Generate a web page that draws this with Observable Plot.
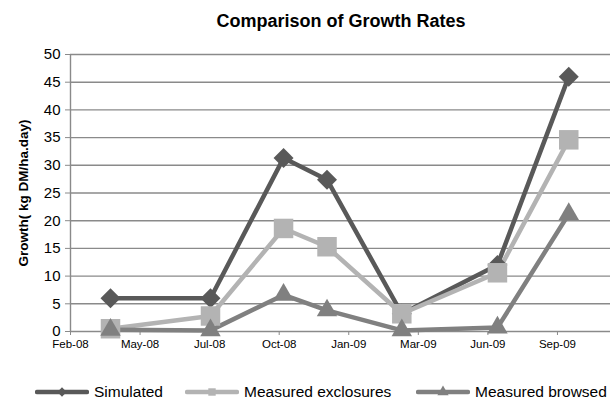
<!DOCTYPE html>
<html>
<head>
<meta charset="utf-8">
<script src="https://cdn.jsdelivr.net/npm/d3@7"></script>
<script src="https://cdn.jsdelivr.net/npm/@observablehq/plot@0.6"></script>
<style>
  body { margin: 0; background: #fff; font-family: Arial, "Liberation Sans", sans-serif; }
  #wrap { position: relative; width: 613px; height: 401px; overflow: hidden; }
  #title { position: absolute; left: 0; top: 12px; width: 682px; text-align: center; font-weight: bold; font-size: 18px; line-height: 18px; }
  #chart { position: absolute; left: 0; top: 40px; }
  .leg { position: absolute; top: 381px; height: 22px; font-size: 15.5px; display: flex; align-items: center; white-space: nowrap; }
  .leg svg { margin-right: 5px; }
</style>
</head>
<body>
<div id="wrap">
  <div id="title">Comparison of Growth Rates</div>
  <div id="chart"></div>
  <div id="legend"></div>
</div>
<script>
const dates = ["2008-04-06", "2008-07-30", "2008-10-22", "2008-12-11", "2009-03-07", "2009-06-25", "2009-09-15"];
const simulated = [6, 6, 31.3, 27.4, 3.2, 12, 46];
const exclosures = [0.5, 2.8, 18.6, 15.3, 3.2, 10.6, 34.6];
const browsed = [0.3, 0.2, 6.6, 3.8, 0.2, 0.7, 21.2];
const seriesNames = ["Simulated", "Measured exclosures", "Measured browsed"];
const tickDates = ["2008-02-20", "2008-05-10", "2008-07-29", "2008-10-17", "2009-01-05", "2009-03-26", "2009-06-14", "2009-09-02"];
const tickLabels = ["Feb-08", "May-08", "Jul-08", "Oct-08", "Jan-09", "Mar-09", "Jun-09", "Sep-09"];
const yTicks = [0, 5, 10, 15, 20, 25, 30, 35, 40, 45, 50];
const yLabel = "Growth( kg DM/ha.day)";

const colors = ["#595959", "#b3b3b3", "#808080"];
const symbols = ["diamond2", "square", "triangle"];
const radii = [9, 11, 7.6];
const values = [simulated, exclosures, browsed];

const ticks = tickDates.map(d => new Date(d));
const labelOf = new Map(ticks.map((t, i) => [+t, tickLabels[i]]));

const marks = [
  Plot.ruleY(yTicks, {stroke: "#8a8a8a", strokeWidth: 1.4}),
  Plot.ruleX([ticks[0]], {stroke: "#8a8a8a", strokeWidth: 1.4}),
  Plot.axisY({ticks: yTicks, tickSize: 5, tickPadding: 5, fontSize: 15, stroke: "#8a8a8a", label: null, color: "#000"}),
  Plot.axisX({ticks: ticks, tickSize: 4, tickPadding: 4, fontSize: 11.5, stroke: "#8a8a8a", tickFormat: d => labelOf.get(+d), label: null}),
  Plot.text([yLabel], {frameAnchor: "left", rotate: -90, dx: -47, textAnchor: "middle", fontWeight: "bold", fontSize: 13.5})
];
values.forEach((vals, s) => {
  const data = vals.map((v, i) => ({date: new Date(dates[i]), value: v}));
  marks.push(Plot.line(data, {x: "date", y: "value", stroke: colors[s], strokeWidth: 4.5}));
});
values.forEach((vals, s) => {
  const data = vals.map((v, i) => ({date: new Date(dates[i]), value: v}));
  marks.push(Plot.dot(data, {x: "date", y: "value", symbol: () => symbols[s], r: radii[s], fill: colors[s], stroke: "none"}));
});

const chart = Plot.plot({
  width: 613,
  height: 320,
  marginLeft: 70,
  marginRight: 3,
  marginTop: 14,
  marginBottom: 29,
  style: {fontFamily: "Arial, 'Liberation Sans', sans-serif", color: "#000", background: "#fff", overflow: "visible"},
  x: {type: "utc", domain: [new Date("2008-02-20"), new Date("2009-11-02")]},
  y: {domain: [0, 50]},
  symbol: {type: "identity"},
  marks
});
document.getElementById("chart").appendChild(chart);

// legend
const legendPos = [35, 185, 416];
const legend = document.getElementById("legend");
seriesNames.forEach((name, s) => {
  const div = document.createElement("div");
  div.className = "leg";
  div.style.left = legendPos[s] + "px";
  const svg = d3.create("svg").attr("width", 54).attr("height", 22);
  svg.append("line").attr("x1", 2).attr("x2", 52).attr("y1", 11).attr("y2", 11)
    .attr("stroke", colors[s]).attr("stroke-width", 4.5).attr("stroke-linecap", "round");
  const symType = [d3.symbolDiamond2, d3.symbolSquare, d3.symbolTriangle][s];
  svg.append("path").attr("d", d3.symbol(symType, 55)()).attr("transform", "translate(27,11)").attr("fill", colors[s]);
  div.appendChild(svg.node());
  const span = document.createElement("span");
  span.textContent = name;
  div.appendChild(span);
  legend.appendChild(div);
});
</script>
</body>
</html>
